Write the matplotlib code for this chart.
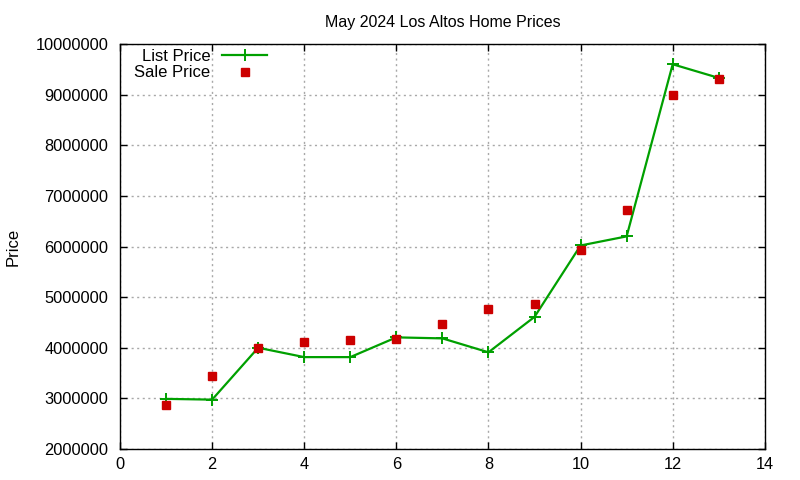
import matplotlib
matplotlib.use('Agg')
import matplotlib.pyplot as plt
from matplotlib.ticker import MultipleLocator, FuncFormatter

plt.rcParams['font.family'] = ['Liberation Sans', 'DejaVu Sans']

homes = [1, 2, 3, 4, 5, 6, 7, 8, 9, 10, 11, 12, 13]
list_price = [2990000, 2975000, 4000000, 3815000, 3815000, 4205000, 4185000,
              3910000, 4610000, 6020000, 6200000, 9600000, 9330000]
sale_price = [2875000, 3440000, 4000000, 4120000, 4160000, 4180000, 4460000,
              4760000, 4860000, 5930000, 6720000, 9000000, 9300000]

fig = plt.figure(figsize=(8, 4.8), dpi=100)
ax = fig.add_axes([0.15, 0.0646, 0.806, 0.8437])

line_list, = ax.plot(homes, list_price, color='#00a000', linewidth=1.6,
                     marker='+', markersize=8, markeredgewidth=1.4,
                     label='List Price', zorder=3)
pts_sale, = ax.plot(homes, sale_price, linestyle='none', marker='s',
                    color='#cc0000', markersize=5.5, label='Sale Price',
                    zorder=4)

ax.set_xlim(0, 14)
ax.set_ylim(2000000, 10000000)
ax.xaxis.set_major_locator(MultipleLocator(2))
ax.yaxis.set_major_locator(MultipleLocator(1000000))
ax.yaxis.set_major_formatter(FuncFormatter(lambda v, p: '%d' % v))
ax.tick_params(direction='in', top=True, right=True, length=5, width=1,
               labelsize=11.8)
ax.tick_params(axis='y', pad=8.5)
ax.tick_params(axis='x', pad=6)
ax.grid(True, color='#a8a8a8', linestyle=(0, (1.5, 2.5)), linewidth=1)
for s in ax.spines.values():
    s.set_linewidth(1)

ax.set_title('May 2024 Los Altos Home Prices', fontsize=11.5, pad=12)
ax.set_ylabel('Price', fontsize=12)
ax.yaxis.set_label_coords(-0.154, 0.5)

# gnuplot-style key: labels right-aligned, sample after the text
leg1 = ax.legend(handles=[line_list], loc='upper right',
                 bbox_to_anchor=(0.228, 0.987), frameon=False,
                 markerfirst=False, fontsize=12, handlelength=2.7,
                 handletextpad=0.7, borderpad=0, borderaxespad=0)
ax.add_artist(leg1)
ax.legend(handles=[pts_sale], loc='upper right',
          bbox_to_anchor=(0.228, 0.947), frameon=False,
          markerfirst=False, fontsize=12, handlelength=2.7,
          handletextpad=0.7, borderpad=0, borderaxespad=0)

plt.savefig('out.png')
plt.close()
